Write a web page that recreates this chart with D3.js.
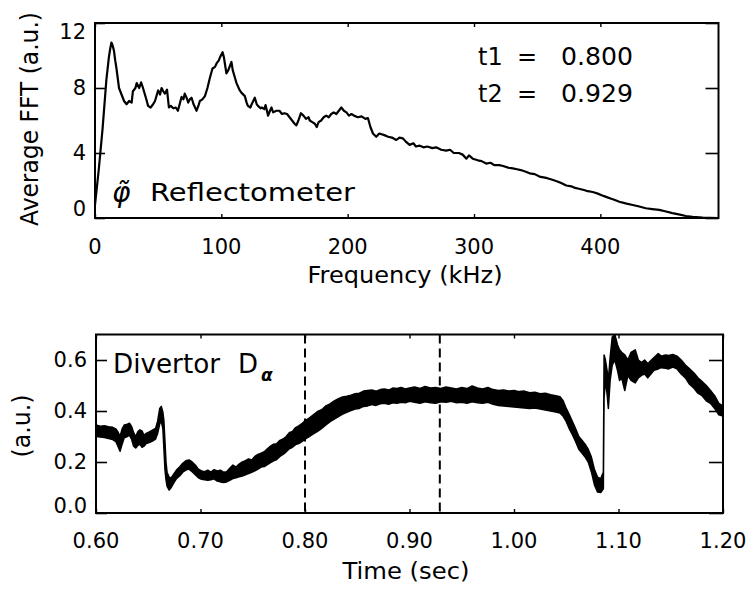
<!DOCTYPE html>
<html>
<head>
<meta charset="utf-8">
<script src="https://cdn.jsdelivr.net/npm/d3@7"></script>
<style>
  html, body { margin: 0; padding: 0; background: #fff; }
  svg { display: block; }
  text { font-family: "DejaVu Sans", sans-serif; fill: #000; }
</style>
</head>
<body>
<svg id="chart" width="753" height="589"></svg>
<script>
// ---- Reflectometer phase spectrum (averaged FFT between t1 and t2) ----
const freqKHz = [0,3,6,9,11,12,13,14,15,16,17,18,19,21,23,25,27,29,30,32,33,35,36.5,38,39.5,41,42,44,46,47.5,49,50,51.5,52.7,54,55.3,57,58.5,60,62,64,65.6,67,68.5,70,71,72.5,73.8,75,76.4,78,80.4,82,83,85,87,89,91,93,95,96.5,98,99,101,102,103,104,105.5,107,108,109,110.7,112,114.6,116,118.6,120,121,123,124,126.5,128,129,131,132,134,135,137,138.5,139.7,141,143.6,146,148,150,152,154,156,158,159.4,161,163,165,167,169,170,172,174,175.5,177,179,181,183,185,187,189,191,193,195,197,199,201,203,205,208,211,214,216,218,220,222.6,225,229,232,235,238.5,241,243.7,246,249,252,254,257,260,263,267,270,274,278,281,284,288,291,294,296,299,303,306,309.6,313,316,320,323,327,330.7,334,337,341,344,348,351.8,355,358,362,366,369,373,377,380,383,387,390,394,398,401,404.5,408,411,415,420,425.6,430,436,441,446.6,452,457,462,467.7,473,481,493];
const fftAvg = [0.8,3.0,5.5,8.5,9.9,10.4,10.8,10.6,10.3,9.7,9.2,8.6,8.0,7.6,7.2,7.0,7.2,7.1,7.8,8.0,8.3,8.0,8.35,8.0,7.6,7.2,6.9,6.8,7.0,7.2,7.6,7.85,7.6,8.0,7.8,7.65,7.9,6.8,6.9,6.75,6.8,6.6,7.0,7.45,7.3,7.65,7.4,7.1,7.3,7.4,7.0,6.6,6.95,7.2,7.3,7.5,8.0,8.65,9.2,9.3,9.55,9.7,9.9,10.2,9.9,9.4,8.9,9.1,9.4,9.6,9.1,8.65,8.3,7.85,7.7,7.5,7.1,6.9,6.8,7.0,7.4,7.0,6.9,6.75,6.8,6.7,6.95,6.3,6.6,6.8,6.5,6.6,6.6,6.4,6.45,6.4,6.2,6.0,5.8,5.7,6.0,6.45,6.3,6.1,6.2,6.0,5.9,5.8,5.6,5.9,6.0,6.2,6.3,6.2,6.4,6.5,6.4,6.6,6.8,6.6,6.5,6.3,6.4,6.3,6.2,6.25,6.1,6.15,5.6,5.2,5.0,5.2,5.1,5.0,4.95,4.8,4.95,4.9,4.7,4.5,4.6,4.4,4.45,4.35,4.4,4.3,4.35,4.2,4.15,4.2,4.0,4.0,3.9,3.65,3.85,3.65,3.55,3.5,3.35,3.4,3.25,3.25,3.2,3.1,3.05,3.0,2.95,2.85,2.75,2.7,2.55,2.5,2.45,2.35,2.25,2.15,2.0,1.95,1.85,1.8,1.72,1.65,1.6,1.5,1.4,1.3,1.2,1.12,1.0,0.9,0.8,0.72,0.6,0.55,0.5,0.4,0.3,0.22,0.12,0.07,0.02,0.0];
const freqTicks = [0, 100, 200, 300, 400];
const fftTicks = [0, 4, 8, 12];
const fftDomain = [0, 493.5];
const fftRange = [0, 12];

// ---- Divertor D-alpha trace, drawn as the min/max envelope of the signal ----
const timeSec = [0.600,0.604,0.608,0.612,0.616,0.619,0.621,0.623,0.625,0.627,0.630,0.632,0.634,0.636,0.638,0.640,0.642,0.644,0.646,0.648,0.651,0.654,0.657,0.659,0.661,0.6625,0.664,0.665,0.666,0.667,0.668,0.670,0.672,0.674,0.677,0.680,0.683,0.686,0.689,0.692,0.695,0.698,0.701,0.704,0.707,0.710,0.713,0.716,0.719,0.722,0.725,0.728,0.731,0.734,0.737,0.740,0.743,0.746,0.749,0.752,0.755,0.758,0.761,0.764,0.767,0.770,0.773,0.776,0.779,0.782,0.785,0.788,0.791,0.794,0.797,0.800,0.804,0.808,0.812,0.816,0.820,0.824,0.828,0.832,0.836,0.840,0.844,0.848,0.852,0.856,0.860,0.864,0.868,0.872,0.876,0.880,0.884,0.888,0.892,0.896,0.900,0.905,0.910,0.915,0.920,0.925,0.930,0.935,0.940,0.945,0.950,0.955,0.960,0.965,0.970,0.975,0.980,0.985,0.990,0.995,1.000,1.005,1.010,1.015,1.020,1.025,1.030,1.035,1.040,1.044,1.047,1.050,1.053,1.056,1.059,1.062,1.065,1.068,1.071,1.074,1.077,1.080,1.083,1.0855,1.0862,1.0875,1.089,1.0903,1.092,1.094,1.0965,1.099,1.101,1.103,1.106,1.109,1.112,1.116,1.119,1.122,1.125,1.128,1.131,1.134,1.138,1.141,1.145,1.148,1.152,1.156,1.160,1.164,1.168,1.172,1.176,1.180,1.184,1.188,1.192,1.196,1.200];
const dalphaHi = [.345,.340,.342,.338,.336,.330,.318,.300,.330,.345,.348,.352,.340,.315,.300,.318,.326,.322,.305,.312,.318,.325,.332,.360,.410,.418,.395,.360,.280,.200,.160,.140,.138,.150,.168,.180,.195,.205,.208,.200,.188,.172,.165,.162,.168,.160,.170,.165,.168,.160,.162,.175,.188,.180,.192,.200,.205,.212,.208,.222,.230,.235,.240,.252,.262,.270,.272,.285,.290,.300,.315,.320,.335,.342,.350,.362,.372,.385,.398,.405,.420,.428,.440,.448,.455,.458,.462,.468,.470,.478,.480,.482,.478,.484,.486,.482,.490,.488,.492,.486,.490,.494,.488,.496,.490,.492,.488,.494,.490,.486,.492,.488,.498,.490,.486,.492,.484,.480,.482,.478,.480,.476,.478,.472,.474,.468,.470,.464,.460,.456,.440,.410,.385,.358,.330,.300,.285,.270,.250,.220,.170,.140,.135,.160,.620,.600,.560,.520,.610,.690,.700,.660,.640,.630,.620,.600,.630,.640,.600,.590,.600,.585,.598,.610,.625,.615,.620,.618,.622,.615,.600,.580,.565,.550,.530,.515,.500,.480,.460,.430,.420];
const dalphaLo = [.300,.298,.296,.292,.288,.280,.262,.242,.270,.295,.300,.305,.290,.262,.255,.265,.270,.258,.262,.272,.276,.282,.290,.312,.350,.360,.330,.250,.170,.130,.105,.090,.100,.115,.135,.145,.160,.168,.172,.162,.150,.138,.132,.130,.128,.130,.134,.125,.122,.120,.122,.128,.135,.138,.142,.145,.150,.155,.160,.165,.172,.180,.182,.190,.198,.205,.210,.222,.230,.240,.252,.258,.268,.272,.280,.290,.300,.310,.320,.332,.345,.358,.368,.378,.388,.395,.402,.408,.410,.418,.420,.425,.422,.428,.430,.426,.432,.430,.434,.432,.438,.434,.430,.436,.432,.430,.436,.434,.438,.432,.434,.430,.436,.432,.430,.434,.426,.422,.420,.418,.416,.414,.412,.410,.412,.408,.404,.400,.396,.392,.380,.358,.330,.306,.280,.250,.235,.220,.200,.162,.110,.082,.080,.095,.450,.520,.470,.410,.520,.580,.600,.560,.520,.530,.480,.540,.520,.510,.530,.540,.545,.530,.545,.560,.565,.570,.568,.565,.572,.565,.545,.530,.505,.490,.470,.460,.440,.430,.410,.385,.380];
const timeTicks = [0.6, 0.7, 0.8, 0.9, 1.0, 1.1, 1.2];
const dalphaTicks = [0, 0.2, 0.4, 0.6];
const timeDomain = [0.6, 1.2];
const dalphaRange = [0, 0.7];

// Averaging window used for the spectrum
const markerTimes = [0.800, 0.929];
const markerNames = ["t1", "t2"];

const svg = d3.select("#chart");
svg.append("rect").attr("width", 753).attr("height", 589).attr("fill", "#fff");

const fmtTime = d3.format(".2f");
const fmtDa = d3.format(".1f");
const fmtT = d3.format(".3f");

// Draws a boxed panel with inward ticks on all four sides
function framePanel(g, x, y, xTicks, yTicks, opts) {
  const [x0, x1] = x.range();
  const [y0, y1] = y.range(); // y0 bottom, y1 top
  const axisStroke = sel => sel.select(".domain").remove();

  const left = g.append("g").attr("transform", `translate(${x0},0)`)
    .call(d3.axisRight(y).tickValues(yTicks).tickSize(opts.yTickLen).tickFormat(""))
    .call(axisStroke);
  left.selectAll("line").attr("stroke", "#000").attr("stroke-width", 1.6);
  const right = g.append("g").attr("transform", `translate(${x1},0)`)
    .call(d3.axisLeft(y).tickValues(yTicks).tickSize(opts.yTickLenR).tickFormat(""))
    .call(axisStroke);
  right.selectAll("line").attr("stroke", "#000").attr("stroke-width", 1.6);
  const bottom = g.append("g").attr("transform", `translate(0,${y0})`)
    .call(d3.axisTop(x).tickValues(xTicks).tickSize(4).tickFormat(""))
    .call(axisStroke);
  bottom.selectAll("line").attr("stroke", "#000").attr("stroke-width", 1.4);
  const top = g.append("g").attr("transform", `translate(0,${y1})`)
    .call(d3.axisBottom(x).tickValues(xTicks).tickSize(4).tickFormat(""))
    .call(axisStroke);
  top.selectAll("line").attr("stroke", "#000").attr("stroke-width", 1.4);

  // y tick labels (kept inside the frame height)
  g.append("g").selectAll("text").data(yTicks).join("text")
    .attr("x", x0 - 9)
    .attr("y", d => Math.min(y0 - opts.labelInset, Math.max(y1 + opts.labelInset, y(d))))
    .attr("text-anchor", "end")
    .attr("dominant-baseline", "central")
    .attr("font-size", opts.tickFont)
    .text(opts.yFormat);

  // x tick labels
  g.append("g").selectAll("text").data(xTicks).join("text")
    .attr("x", d => x(d))
    .attr("y", y0 + opts.xLabelDy)
    .attr("text-anchor", "middle")
    .attr("font-size", opts.tickFont)
    .text(opts.xFormat);

  // frame
  g.append("rect")
    .attr("x", x0).attr("y", y1)
    .attr("width", x1 - x0).attr("height", y0 - y1)
    .attr("fill", "none").attr("stroke", "#000").attr("stroke-width", 2);
}

// ================= Top panel: averaged FFT =================
const xF = d3.scaleLinear().domain(fftDomain).range([95, 718.5]);
const yF = d3.scaleLinear().domain(fftRange).range([218, 23]);
const gTop = svg.append("g");

gTop.append("path")
  .datum(freqKHz.map((f, i) => [f, fftAvg[i]]))
  .attr("fill", "none").attr("stroke", "#000").attr("stroke-width", 2.2)
  .attr("stroke-linejoin", "round")
  .attr("d", d3.line().x(d => xF(d[0])).y(d => yF(d[1])));

framePanel(gTop, xF, yF, freqTicks, fftTicks, {
  yTickLen: 10, yTickLenR: 13, tickFont: 21, labelInset: 9, xLabelDy: 36,
  yFormat: d => d, xFormat: d => d
});

gTop.append("text")
  .attr("transform", "translate(38,119) rotate(-90)")
  .attr("text-anchor", "middle").attr("font-size", 24)
  .attr("textLength", 214).attr("lengthAdjust", "spacingAndGlyphs")
  .text("Average FFT (a.u.)");
gTop.append("text")
  .attr("x", 405).attr("y", 283)
  .attr("text-anchor", "middle").attr("font-size", 23)
  .attr("textLength", 195).attr("lengthAdjust", "spacingAndGlyphs")
  .text("Frequency (kHz)");

// time window annotation
markerTimes.forEach((t, i) => {
  const yy = 65 + i * 37;
  gTop.append("text").attr("x", 478).attr("y", yy).attr("font-size", 24).text(markerNames[i]);
  gTop.append("text").attr("x", 527).attr("y", yy).attr("text-anchor", "middle").attr("font-size", 24).text("=");
  gTop.append("text").attr("x", 561).attr("y", yy).attr("font-size", 24)
    .attr("textLength", 72).attr("lengthAdjust", "spacingAndGlyphs").text(fmtT(t));
});

// phi-tilde Reflectometer label (combining tilde over phi)
gTop.append("text").attr("x", 112).attr("y", 202).attr("font-size", 28)
  .attr("font-style", "italic").text("φ\u0303");
gTop.append("text").attr("x", 150).attr("y", 201).attr("font-size", 25)
  .attr("textLength", 205).attr("lengthAdjust", "spacingAndGlyphs")
  .text("Reflectometer");

// ================= Bottom panel: Divertor D-alpha =================
const xT = d3.scaleLinear().domain(timeDomain).range([96, 723]);
const yD = d3.scaleLinear().domain(dalphaRange).range([513, 334.5]);
const gBot = svg.append("g");

const clip = svg.append("defs").append("clipPath").attr("id", "plotclip");
clip.append("rect").attr("x", 96).attr("y", 335).attr("width", 627).attr("height", 178);

gBot.append("path")
  .datum(timeSec.map((t, i) => [t, dalphaLo[i], dalphaHi[i]]))
  .attr("clip-path", "url(#plotclip)")
  .attr("fill", "#000").attr("stroke", "#000").attr("stroke-width", 1.5)
  .attr("stroke-linejoin", "round")
  .attr("d", d3.area().x(d => xT(d[0])).y0(d => yD(d[1])).y1(d => yD(d[2])));

// dashed markers at t1 and t2
gBot.append("g").selectAll("line").data(markerTimes).join("line")
  .attr("x1", d => xT(d)).attr("x2", d => xT(d))
  .attr("y1", yD.range()[1]).attr("y2", yD.range()[0])
  .attr("stroke", "#000").attr("stroke-width", 2).attr("stroke-dasharray", "9,5");

framePanel(gBot, xT, yD, timeTicks, dalphaTicks, {
  yTickLen: 11, yTickLenR: 14, tickFont: 21, labelInset: 7, xLabelDy: 35,
  yFormat: fmtDa, xFormat: fmtTime
});

gBot.append("text")
  .attr("transform", "translate(30,426) rotate(-90)")
  .attr("text-anchor", "middle").attr("font-size", 24)
  .attr("textLength", 63).attr("lengthAdjust", "spacingAndGlyphs")
  .text("(a.u.)");
gBot.append("text")
  .attr("x", 406).attr("y", 579)
  .attr("text-anchor", "middle").attr("font-size", 23)
  .attr("textLength", 127).attr("lengthAdjust", "spacingAndGlyphs")
  .text("Time (sec)");

const lab = gBot.append("text").attr("x", 113).attr("y", 373).attr("font-size", 26);
lab.append("tspan").attr("textLength", 107).attr("lengthAdjust", "spacingAndGlyphs").text("Divertor");
lab.append("tspan").attr("dx", 18).text("D");
lab.append("tspan").attr("dy", 8).attr("dx", 3).attr("font-size", 17)
  .attr("font-weight", "bold").attr("font-style", "italic").text("α");
</script>
</body>
</html>
